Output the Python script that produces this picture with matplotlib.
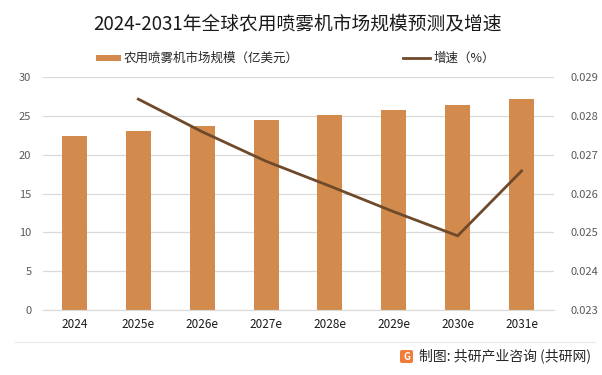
import matplotlib
matplotlib.use("Agg")
import matplotlib.pyplot as plt
from matplotlib.patches import FancyBboxPatch
from matplotlib.lines import Line2D
import numpy as np

plt.rcParams['font.family'] = ['Noto Sans CJK SC', 'DejaVu Sans']

years = ["2024", "2025e", "2026e", "2027e", "2028e", "2029e", "2030e", "2031e"]
market = [22.4, 23.05, 23.7, 24.4, 25.05, 25.7, 26.4, 27.2]
growth_years = ["2025e", "2026e", "2027e", "2028e", "2029e", "2030e", "2031e"]
growth = [0.02843, 0.02759, 0.02683, 0.02619, 0.02553, 0.02491, 0.02658]

bar_color = "#D38B4D"
line_color = "#6E4A2A"

fig = plt.figure(figsize=(6.02, 3.75), dpi=100)
ax = fig.add_axes([42.5/602, 1-310/375, (553.5-42.5)/602, (310-77)/375])
x = np.arange(len(years))
ax.bar(x, market, width=0.39, color=bar_color, zorder=2)
ax.set_xlim(-0.5, len(years)-0.5)
ax.set_ylim(0, 30)
ax.set_yticks(range(0, 31, 5))
ax.set_xticks(x)
ax.set_xticklabels(years, fontsize=8.5, color="#1a1a1a")
ax.tick_params(axis='y', labelsize=8, labelcolor="#595959", length=0, pad=8)
ax.tick_params(axis='x', length=0, pad=6)
ax.grid(axis='y', color="#D9D9D9", linewidth=0.9, zorder=0)
for s in ["top", "right", "left"]:
    ax.spines[s].set_visible(False)
ax.spines["bottom"].set_color("#D9D9D9")

ax2 = ax.twinx()
gx = [years.index(y) for y in growth_years]
ax2.plot(gx, growth, color=line_color, linewidth=2.0, zorder=3)
ax2.set_ylim(0.023, 0.029)
ax2.set_yticks(np.arange(0.023, 0.0291, 0.001))
ax2.set_yticklabels([f"{v:.3f}" for v in np.arange(0.023, 0.0291, 0.001)])
ax2.tick_params(axis='y', labelsize=8, labelcolor="#595959", length=0, pad=12)
for s in ax2.spines.values():
    s.set_visible(False)

fig.text(297/602, 1-24/375, "2024-2031年全球农用喷雾机市场规模预测及增速",
         ha="center", va="center", fontsize=13.5, color="#1a1a1a")

# legend
fig.patches.append(FancyBboxPatch((96/602, 1-61/375), 25/602, 6/375,
                                  boxstyle="square,pad=0", transform=fig.transFigure,
                                  facecolor=bar_color, edgecolor="none"))
fig.text(124/602, 1-58/375, "农用喷雾机市场规模（亿美元）", ha="left", va="center",
         fontsize=9, color="#262626")
fig.lines.append(Line2D([403/602, 430/602], [1-58/375, 1-58/375], transform=fig.transFigure,
                        color=line_color, linewidth=2.0))
fig.text(434/602, 1-58/375, "增速（%）", ha="left", va="center",
         fontsize=9, color="#262626")

# footer
fig.lines.append(Line2D([15/602, 595/602], [1-342/375, 1-342/375], transform=fig.transFigure,
                        color="#E8E8E8", linewidth=0.8))
fig.patches.append(FancyBboxPatch((400/602, 1-363/375), 13/602, 13/375,
                                  boxstyle="round,pad=0,rounding_size=0.004", transform=fig.transFigure,
                                  facecolor="#F07C3A", edgecolor="none"))
fig.text(406.5/602, 1-356.5/375, "G", ha="center", va="center", fontsize=7,
         color="white", fontweight="bold")
fig.text(419/602, 1-356/375, "制图: 共研产业咨询 (共研网)", ha="left", va="center",
         fontsize=10, color="#262626")

fig.savefig("out.png", dpi=100)
